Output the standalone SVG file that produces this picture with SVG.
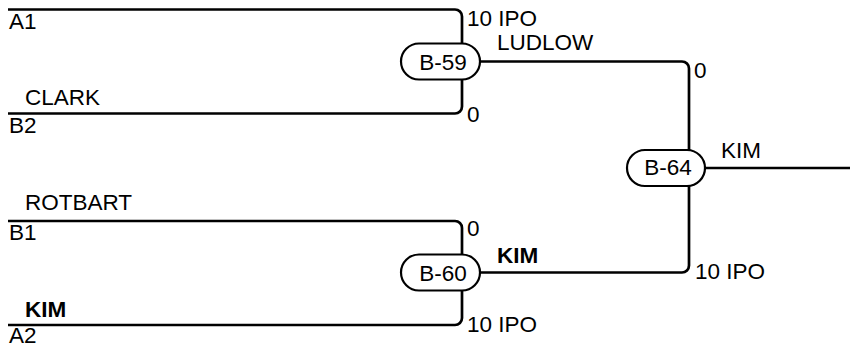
<svg xmlns="http://www.w3.org/2000/svg" width="850" height="347" viewBox="0 0 850 347">
<style>
text{font-family:"Liberation Sans",Arial,sans-serif;font-size:22.5px;fill:#000}
.b{font-weight:bold}
.c{text-anchor:middle}
.ln{fill:none;stroke:#000;stroke-width:2.7}
.pill{fill:#fff;stroke:#000;stroke-width:2.2}
</style>
<rect width="850" height="347" fill="#fff"/>
<g id="connectors">
<path class="ln" d="M8 9.5H455a7 7 0 0 1 7 7V62"/>
<path class="ln" d="M8 113.5H455a7 7 0 0 0 7-7V62"/>
<path class="ln" d="M462 61.5H682a7 7 0 0 1 7 7V168"/>
<path class="ln" d="M8 221H455a7 7 0 0 1 7 7V272"/>
<path class="ln" d="M8 325H455a7 7 0 0 0 7-7V272"/>
<path class="ln" d="M462 272.5H682a7 7 0 0 0 7-7V168"/>
<path class="ln" d="M689 168H850"/>
</g>
<g id="labels">
<text x="9" y="29">A1</text>
<text x="25" y="105">CLARK</text>
<text x="9" y="133">B2</text>
<text x="25" y="210">ROTBART</text>
<text x="9" y="240">B1</text>
<text class="b" x="25" y="317">KIM</text>
<text x="9" y="343">A2</text>
<text x="467" y="26">10 IPO</text>
<text x="497" y="50">LUDLOW</text>
<text x="467" y="122">0</text>
<text x="694" y="78">0</text>
<text x="721" y="158">KIM</text>
<text x="467" y="236">0</text>
<text class="b" x="497" y="263">KIM</text>
<text x="695" y="279">10 IPO</text>
<text x="467" y="332">10 IPO</text>
</g>
<g id="B-59">
<rect class="pill" x="401" y="43.5" width="79" height="36" rx="18"/>
<text class="c" x="443" y="70">B-59</text>
</g>
<g id="B-64">
<rect class="pill" x="627" y="150" width="78" height="36" rx="18"/>
<text class="c" x="668" y="175">B-64</text>
</g>
<g id="B-60">
<rect class="pill" x="401" y="254.5" width="79" height="36" rx="18"/>
<text class="c" x="443" y="281">B-60</text>
</g>
</svg>
